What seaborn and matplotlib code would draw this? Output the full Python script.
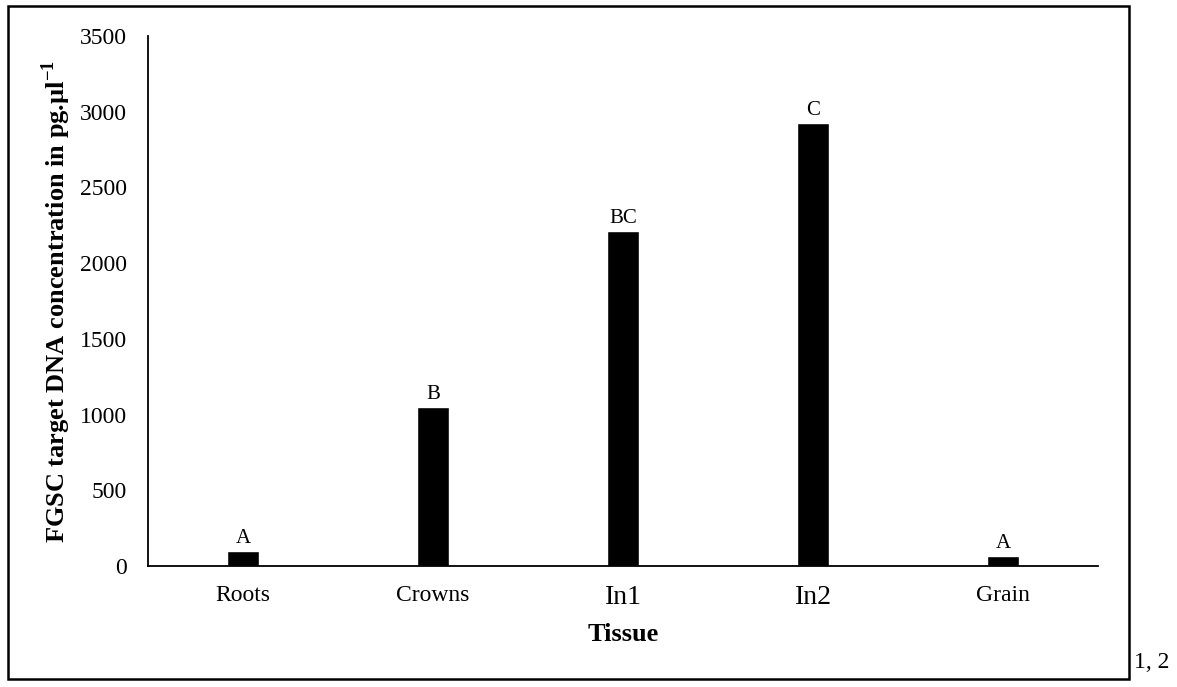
import matplotlib
matplotlib.use("Agg")
import matplotlib.pyplot as plt
import seaborn as sns
import pandas as pd
from matplotlib.patches import Rectangle

# data
tissues = ["Roots", "Crowns", "In1", "In2", "Grain"]
concentration = [100, 1050, 2215, 2925, 68]
letters = ["A", "B", "BC", "C", "A"]
y_ticks = [0, 500, 1000, 1500, 2000, 2500, 3000, 3500]

df = pd.DataFrame({"Tissue": tissues, "Concentration": concentration})

sns.set_style("white", {"text.color": "black", "axes.labelcolor": "black",
                        "xtick.color": "black", "ytick.color": "black"})
plt.rcParams["font.family"] = ["Liberation Serif", "DejaVu Serif"]
plt.rcParams["mathtext.fontset"] = "custom"
plt.rcParams["mathtext.rm"] = "Liberation Serif"
plt.rcParams["mathtext.bf"] = "Liberation Serif:bold"

fig = plt.figure(figsize=(11.77, 6.87), dpi=100)
ax = fig.add_axes([0.1257, 0.1761, 0.8072, 0.7715])

sns.barplot(data=df, x="Tissue", y="Concentration", color="black",
            width=0.17, saturation=1, ax=ax)

ax.set_ylim(0, 3500)
ax.set_yticks(y_ticks)
ax.set_xlim(-0.5, len(tissues) - 0.5)

for spine in ["top", "right"]:
    ax.spines[spine].set_visible(False)
for spine in ["left", "bottom"]:
    ax.spines[spine].set_color("black")
    ax.spines[spine].set_linewidth(1.3)

ax.tick_params(axis="y", length=0, pad=15, labelsize=17, labelcolor="black")
ax.tick_params(axis="x", length=0, pad=14, labelsize=17, labelcolor="black")
for lab in ax.get_xticklabels():
    if lab.get_text() in ("In1", "In2"):
        lab.set_fontsize(20)

for i, (val, let) in enumerate(zip(concentration, letters)):
    ax.annotate(let, (i, val), xytext=(0, 2), textcoords="offset points",
                ha="center", va="bottom", fontsize=15, color="black")

ax.set_xlabel("Tissue", fontsize=19, fontweight="bold", labelpad=9, color="black")
ax.set_ylabel(r"FGSC target DNA concentration in pg.µl$^{\mathbf{-1}}$",
              fontsize=19, fontweight="bold", labelpad=5, color="black")

# outer frame like the source document
fig.patches.append(Rectangle((0.0068, 0.0116), 0.9524, 0.9797, transform=fig.transFigure,
                             fill=False, edgecolor="black", linewidth=1.8))
fig.text(0.9635, 0.028, "1, 2", fontsize=17, ha="left", va="baseline", color="black")

fig.savefig("out.png", dpi=100)
